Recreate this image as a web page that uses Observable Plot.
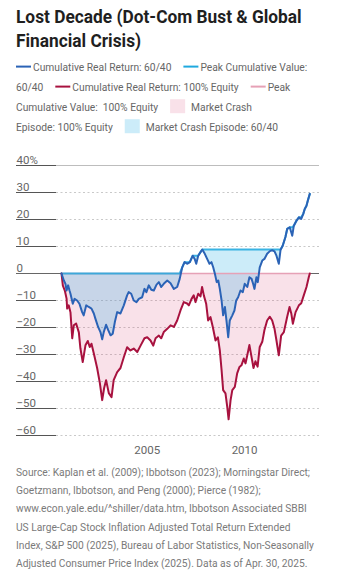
<!DOCTYPE html>
<html><head><meta charset="utf-8">
<script src="https://cdn.jsdelivr.net/npm/d3@7"></script>
<script src="https://cdn.jsdelivr.net/npm/@observablehq/plot@0.6"></script>
<style>
html,body{margin:0;padding:0;background:#fff;width:344px;height:570px;overflow:hidden}
svg{display:block}
text{white-space:pre}
</style></head><body>
<div id="hdr"></div><div id="chart"></div><div id="cap"></div>
<script>
const FONT = "Roboto, 'Liberation Sans', sans-serif";

const titleLines = ["Lost Decade (Dot-Com Bust & Global", "Financial Crisis)"];
const legendRows = [
  [{kind:"line", color:"#2b63b6"}, {kind:"text", text:"Cumulative Real Return: 60/40"}, {kind:"line", color:"#1fa9df"}, {kind:"text", text:"Peak Cumulative Value:"}],
  [{kind:"text", text:"60/40"}, {kind:"line", color:"#a8123f"}, {kind:"text", text:"Cumulative Real Return: 100% Equity"}, {kind:"line", color:"#e6a1b6"}, {kind:"text", text:"Peak"}],
  [{kind:"text", text:"Cumulative Value:  100% Equity"}, {kind:"square", color:"#d6336c", opacity:0.15}, {kind:"text", text:"Market Crash"}],
  [{kind:"text", text:"Episode: 100% Equity"}, {kind:"square", color:"#35b3e6", opacity:0.25}, {kind:"text", text:"Market Crash Episode: 60/40"}]
];
const captionLines = [
  "Source: Kaplan et al. (2009); Ibbotson (2023); Morningstar Direct;",
  "Goetzmann, Ibbotson, and Peng (2000); Pierce (1982);",
  "www.econ.yale.edu/^shiller/data.htm, Ibbotson Associated SBBI",
  "US Large-Cap Stock Inflation Adjusted Total Return Extended",
  "Index, S&P 500 (2025), Bureau of Labor Statistics, Non-Seasonally",
  "Adjusted Consumer Price Index (2025). Data as of Apr. 30, 2025."
];
const yTicks = [40, 30, 20, 10, 0, -10, -20, -30, -40, -50, -60];
const xTickYears = [2005, 2010];

// 100% Equity cumulative real return (%), dates as decimal years
const equityYears = [2000.60,2000.67,2000.77,2000.86,2000.89,2000.97,2001.06,2001.15,2001.23,2001.35,
  2001.49,2001.57,2001.69,2001.83,2001.95,2002.05,2002.14,2002.26,2002.43,2002.57,
  2002.69,2002.79,2002.89,2003.03,2003.17,2003.28,2003.46,2003.63,2003.80,2003.97,
  2004.14,2004.31,2004.49,2004.66,2004.86,2005.00,2005.17,2005.31,2005.43,2005.60,
  2005.72,2005.85,2006.03,2006.20,2006.37,2006.54,2006.71,2006.88,2007.05,2007.14,
  2007.28,2007.39,2007.48,2007.62,2007.74,2007.82,2007.91,2008.03,2008.13,2008.25,
  2008.37,2008.51,2008.63,2008.73,2008.82,2008.90,2009.02,2009.11,2009.18,2009.28,
  2009.37,2009.50,2009.62,2009.74,2009.84,2009.96,2010.05,2010.14,2010.25,2010.36,
  2010.46,2010.56,2010.67,2010.78,2010.91,2011.02,2011.16,2011.30,2011.42,2011.54,
  2011.64,2011.76,2011.88,2012.02,2012.19,2012.31,2012.40,2012.48,2012.62,2012.79,
  2012.91,2013.04,2013.18,2013.30,2013.35];
const equityValues = [0,-4.5,-6.3,-9.3,-13,-11.8,-14.4,-24,-19.2,-18.5,
  -21.8,-27.7,-32.8,-26.6,-25,-27.2,-26,-29.6,-35,-40.6,
  -46.9,-42.4,-39.5,-44.3,-45.8,-39.5,-36.5,-35,-31,-27.3,
  -28.5,-27.8,-29.1,-26.7,-24,-23.6,-24.8,-26.7,-24,-23,
  -24,-21.7,-20.5,-19.2,-19.8,-17.4,-13.7,-10.6,-11.1,-11.8,
  -9.4,-8.1,-10.6,-7.5,-8.5,-5,-8.1,-11.2,-17.4,-16.1,
  -19.8,-24.8,-23.6,-28.5,-35.8,-43.2,-44.4,-49.4,-54,-47,
  -43.2,-42,-37,-34.6,-34,-31.5,-33.3,-30.3,-26.5,-31,
  -35,-32.5,-34.5,-27.2,-25.3,-21,-17.4,-16,-17.4,-20.5,
  -24.8,-30.3,-23,-21.7,-16,-12.4,-14.8,-18.6,-14.3,-11.8,
  -11,-8.1,-5,-1.3,0];

// 60/40 cumulative real return (%)
const balancedYears = [2000.60,2000.72,2000.80,2000.86,2000.94,2001.01,2001.06,2001.18,2001.27,2001.40,
  2001.52,2001.66,2001.74,2001.87,2002.00,2002.14,2002.26,2002.34,2002.48,2002.60,
  2002.69,2002.77,2002.89,2003.00,2003.12,2003.23,2003.34,2003.46,2003.63,2003.80,
  2003.97,2004.05,2004.18,2004.31,2004.45,2004.57,2004.74,2004.86,2004.96,2005.08,
  2005.21,2005.34,2005.48,2005.60,2005.72,2005.85,2006.03,2006.20,2006.37,2006.54,
  2006.67,2006.80,2006.92,2007.05,2007.19,2007.34,2007.44,2007.52,2007.62,2007.74,
  2007.83,2007.96,2008.08,2008.20,2008.30,2008.39,2008.49,2008.57,2008.65,2008.73,
  2008.82,2008.90,2008.99,2009.07,2009.16,2009.24,2009.37,2009.48,2009.57,2009.67,
  2009.79,2009.91,2010.01,2010.14,2010.25,2010.36,2010.44,2010.51,2010.61,2010.68,
  2010.78,2010.91,2011.02,2011.16,2011.30,2011.42,2011.54,2011.64,2011.76,2011.85,
  2011.96,2012.10,2012.19,2012.32,2012.45,2012.53,2012.67,2012.79,2012.91,2013.01,
  2013.09,2013.18,2013.25,2013.35];
const balancedValues = [0,-2.6,-3.8,-6.3,-4.4,-6.3,-7.5,-11.2,-9.4,-10,
  -11.2,-14.3,-15.5,-11.8,-12.4,-13,-14.8,-16.7,-19.8,-21.7,
  -24.4,-21.7,-19,-21,-22.9,-22.3,-18,-14.3,-14.8,-11.8,
  -8.1,-6.9,-7.5,-10,-10.6,-9.4,-8.8,-5.7,-6.9,-4.4,
  -6,-6.3,-4.1,-3.2,-5,-3.8,-2.6,-3.6,-5.7,-5,
  -2,2.3,4.2,3.6,4.2,6.6,5.4,3.6,6.6,7.9,
  8.9,7.3,5.4,3.6,4.2,2.3,-0.5,-3.2,-2.6,-5.7,
  -10,-15.5,-12.4,-17.4,-23.6,-17.4,-15.5,-13.7,-10,-8.8,
  -6.3,-6.9,-3.8,-5,-1.4,-2,-3.8,-5.7,-1.4,-3.2,
  2.3,4.8,5.4,7.3,8.3,8.6,8.2,6.6,3.6,8.8,
  10.3,13.5,16.5,17.1,14,17.7,19.6,20.8,20.2,22,
  23.9,25.1,27,29.5];

function yearToDate(t) {
  const y = Math.floor(t), a = Date.UTC(y, 0, 1), b = Date.UTC(y + 1, 0, 1);
  return new Date(a + (t - y) * (b - a));
}
function withPeak(years, values) {
  let peak = -Infinity;
  return years.map((t, i) => { peak = Math.max(peak, values[i]); return {date: yearToDate(t), value: values[i], peak}; });
}
const equity = withPeak(equityYears, equityValues);
const balanced = withPeak(balancedYears, balancedValues);

// ---------- text helpers ----------
function natural(svg, str, font) {
  const t = svg.append("text").style("font", font).text(str);
  const w = t.node().getComputedTextLength(); t.remove(); return w;
}
// pick a font size whose natural width stays inside maxW, then compress to the target width
function fitted(svg, str, weight, size, maxW, targetW) {
  let f = `${weight} ${size}px ${FONT}`;
  let w = natural(svg, str, f);
  if (w > maxW) { size = size * maxW / w; f = `${weight} ${size}px ${FONT}`; w = natural(svg, str, f); }
  return {font: f, k: Math.min(1, targetW / w)};
}
function put(svg, str, x, y, font, fill, k) {
  const t = svg.append("text").attr("x", x).attr("y", y).attr("fill", fill).style("font", font).text(str);
  const w = t.node().getComputedTextLength() * k;
  if (k < 1) t.attr("textLength", w).attr("lengthAdjust", "spacingAndGlyphs");
  return w;
}

// ---------- header (title + legend) ----------
const hdr = d3.select("#hdr").append("svg").attr("width", 344).attr("height", 140);
const T = fitted(hdr, titleLines[0], "bold", 20.5, 312, 285.7);
titleLines.forEach((s, i) => put(hdr, s, 16, 22.7 + 24 * i, T.font, "#1f1f1f", T.k));

const L = fitted(hdr, "Cumulative Real Return: 60/40", "normal", 11.7, 1000, 138.4);
legendRows.forEach((row, r) => {
  const base = 70.6 + 20 * r;
  let x = 16;
  row.forEach(it => {
    if (it.kind === "line") {
      hdr.append("line").attr("x1", x).attr("x2", x + 15).attr("y1", base - 4).attr("y2", base - 4)
        .attr("stroke", it.color).attr("stroke-width", 2);
      x += 17;
    } else if (it.kind === "square") {
      hdr.append("rect").attr("x", x).attr("y", base - 11.4).attr("width", 15).attr("height", 14)
        .attr("fill", it.color).attr("fill-opacity", it.opacity);
      x += 21;
    } else {
      x += put(hdr, it.text, x, base, L.font, "#666", L.k) + 12;
    }
  });
});

// ---------- chart ----------
const fmtY = d => d === 40 ? "40%" : d < 0 ? "\u2212" + Math.abs(d) : String(d);
const plot = Plot.plot({
  width: 344, height: 318,
  marginTop: 25, marginBottom: 23, marginLeft: 16, marginRight: 25,
  style: {fontFamily: FONT, fontSize: "11.5px", color: "#666", background: "#fff"},
  x: {type: "utc", domain: [equity[0].date, equity[equity.length - 1].date], insetLeft: 45, insetRight: 9.7},
  y: {domain: [-60, 40], axis: null},
  marks: [
    Plot.ruleY(yTicks.filter(d => d !== 40 && d !== 0), {insetLeft: 40, stroke: "#c9c9c9", strokeDasharray: "2,2.5"}),
    Plot.ruleY([40], {insetLeft: 40, stroke: "#bdbdbd"}),
    Plot.ruleY(yTicks, {insetRight: 263, stroke: "#555"}),
    Plot.areaY(equity, {x: "date", y1: "peak", y2: "value", fill: "#d6336c", fillOpacity: 0.15}),
    Plot.areaY(balanced, {x: "date", y1: "peak", y2: "value", fill: "#35b3e6", fillOpacity: 0.25}),
    Plot.ruleY([0], {stroke: "#666"}),
    Plot.line(equity, {x: "date", y: "peak", stroke: "#e6a1b6", strokeWidth: 1.5}),
    Plot.line(balanced, {x: "date", y: "peak", stroke: "#1fa9df", strokeWidth: 2, strokeOpacity: 0.85}),
    Plot.line(equity, {x: "date", y: "value", stroke: "#a8123f", strokeWidth: 2}),
    Plot.line(balanced, {x: "date", y: "value", stroke: "#2b63b6", strokeWidth: 2}),
    Plot.text(yTicks, {y: d => d, text: fmtY, frameAnchor: "left", textAnchor: "start", lineAnchor: "bottom", dy: -2, fill: "#666"}),
    Plot.axisX({ticks: xTickYears.map(y => new Date(Date.UTC(y, 0, 1))), tickFormat: "%Y", tickSize: 0, tickPadding: 10, fill: "#666"})
  ]
});
document.getElementById("chart").append(plot);

// ---------- caption ----------
const cap = d3.select("#cap").append("svg").attr("width", 344).attr("height", 112);
const C = fitted(cap, captionLines[0], "normal", 11.7, 312, 294);
captionLines.forEach((s, i) => put(cap, s, 16, 17.7 + 18.3 * i, C.font, "#7a7a7a", C.k));
</script>
</body></html>
